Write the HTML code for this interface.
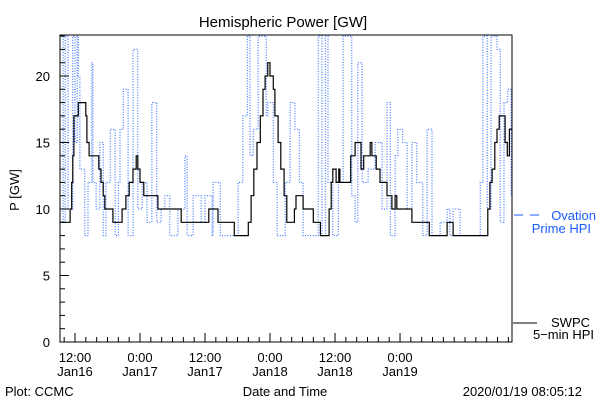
<!DOCTYPE html>
<html><head><meta charset="utf-8"><style>
html,body{margin:0;padding:0;background:#fff;}
svg{display:block;font-family:"Liberation Sans",sans-serif;}
</style></head><body>
<svg id="chart" width="600" height="400" viewBox="0 0 600 400">
<rect width="600" height="400" fill="#fff"/>
<text x="283" y="27" font-size="15" text-anchor="middle">Hemispheric Power [GW]</text>
<text transform="translate(19,190) rotate(-90)" font-size="13" text-anchor="middle">P [GW]</text>
<text x="285" y="396" font-size="13" text-anchor="middle">Date and Time</text>
<text x="5" y="396" font-size="13">Plot: CCMC</text>
<text x="582" y="396" font-size="13" text-anchor="end">2020/01/19 08:05:12</text>
<g>
<line x1="514" y1="215" x2="523" y2="215" stroke="#1a5cff"/>
<line x1="530" y1="215" x2="539" y2="215" stroke="#1a5cff"/>
<text x="596" y="220" font-size="13" fill="#1a5cff" text-anchor="end">Ovation</text>
<text x="591" y="233" font-size="13" fill="#1a5cff" text-anchor="end">Prime HPI</text>
</g>
<g>
<line x1="513" y1="323" x2="537" y2="323" stroke="#000"/>
<text x="590" y="327" font-size="13" text-anchor="end">SWPC</text>
<text x="594" y="339" font-size="13" text-anchor="end">5−min HPI</text>
</g>
<defs><clipPath id="pc"><rect x="60" y="35" width="452" height="307"/></clipPath></defs>
<g id="series" clip-path="url(#pc)"></g>
<g id="axes"></g>
<rect x="60" y="35" width="452" height="307" fill="none" stroke="#000"/>
</svg>
<script>
const blackHours=[9.2,10.7,11.1,11.4,11.6,11.8,12.4,12.6,13.8,14.0,14.2,14.6,16.1,16.4,16.8,17.2,17.5,18.8,19.0,20.3,20.7,21.4,22.0,22.7,23.3,23.6,24.0,24.7,27.0,27.3,31.4,31.6,36.6,36.7,38.2,38.4,41.2,41.4,43.6,44.0,44.5,45.0,45.6,46.2,46.7,47.1,47.6,48.0,48.6,48.9,49.5,50.0,50.6,51.1,51.3,52.1,52.5,52.8,53.9,54.1,55.8,56.0,57.1,57.3,58.5,58.9,59.3,59.6,60.2,60.7,60.9,62.6,62.9,63.7,64.2,64.8,65.3,66.5,66.8,67.6,68.3,69.2,69.6,70.5,71.1,71.4,74.0,74.2,77.2,77.4,80.3,80.7,81.6,81.8,87.9,88.2,88.6,89.0,89.5,89.9,90.3,91.0,91.4,91.8,92.2,92.7];
const blackValues=[9,9,10,12,14,17,17,18,18,17,15,14,14,13,12,11,10,10,9,9,10,11,12,13,14,13,12,11,11,10,10,9,9,10,10,9,9,8,8,9,11,13,15,17,19,20,21,20,19,17,15,13,11,9,9,9,10,11,11,10,10,9,9,8,8,10,12,13,12,13,12,12,14,15,15,13,14,15,14,13,12,12,11,10,11,10,10,9,9,8,8,9,9,8,8,10,12,13,15,16,17,17,15,14,16,15];
const blueHours=[9.4,9.8,10.2,10.7,11.6,12.0,12.4,12.6,12.9,13.8,14.4,15.1,15.3,15.9,16.6,17.2,17.7,18.5,19.4,20.0,20.3,20.9,21.8,22.7,23.6,24.4,25.3,26.2,27.1,27.9,28.6,29.5,31.0,32.3,32.7,33.8,34.7,35.3,36.0,37.3,37.5,38.8,41.2,42.1,43.0,43.8,44.3,44.9,45.8,46.7,47.3,47.6,48.6,49.3,50.8,51.7,52.6,53.4,54.1,55.9,56.9,57.6,58.2,58.7,59.6,60.6,61.5,62.4,63.1,63.7,64.2,65.0,66.1,67.4,68.7,69.6,70.2,71.1,71.6,72.5,73.3,74.2,75.1,76.2,77.0,77.9,79.4,80.7,81.2,81.8,83.1,85.8,86.8,87.3,88.1,88.8,89.3,89.9,90.5,91.2,91.9,92.5];
const blueValues=[23,9,23,10,23,15,23,20,13,8,12,21,12,10,15,8,12,16,8,12,16,19,8,22,10,12,9,18,9,10,11,8,10,14,8,11,11,9,11,8,12,8,8,12,17,23,14,16,23,23,17,18,12,8,12,18,16,12,8,8,23,8,23,12,8,12,23,23,11,9,21,12,13,15,10,18,8,14,16,15,10,15,12,8,16,8,9,10,8,10,8,8,12,23,10,23,23,22,9,18,19,11];
const yTickLabels=["0","5","10","15","20"];
const xTickHours=[12,24,36,48,60,72];
const xTickTimes=["12:00","0:00","12:00","0:00","12:00","0:00"];
const xTickDates=["Jan16","Jan17","Jan17","Jan18","Jan18","Jan19"];

const NS="http://www.w3.org/2000/svg";
const X=h=>75+(h-12)*5.417;
const Y=v=>342-v*13.3;
function mk(tag,attrs,parent){const e=document.createElementNS(NS,tag);for(const k in attrs)e.setAttribute(k,attrs[k]);parent.appendChild(e);return e;}
function stepPath(hs,vs){
  let d='M'+X(hs[0]).toFixed(1)+','+Y(vs[0]).toFixed(1);
  for(let i=1;i<hs.length;i++){
    d+=' H'+X(hs[i]).toFixed(1)+' V'+Y(vs[i]).toFixed(1);
  }
  return d;
}
const series=document.getElementById('series');
const axes=document.getElementById('axes');

const bl=mk('path',{d:stepPath(blueHours,blueValues),fill:'none',stroke:'#1a5cff','stroke-width':1,'stroke-dasharray':'1 1.6'},series);


const kl=mk('path',{d:stepPath(blackHours,blackValues),fill:'none',stroke:'#000','stroke-width':1.2},series);



for(let v=0;v<=23;v++){
  const major=v%5===0;
  const t=mk('line',{x1:60,x2:60+(major?9:5),y1:Y(v),y2:Y(v),stroke:'#000'},axes);
  
  
}
yTickLabels.forEach(s=>{
  const t=mk('text',{x:50,y:Y(+s)+5,'font-size':13,'text-anchor':'end'},axes);
  t.textContent=s;
  
  
});
for(let h=10;h<=92;h+=2){
  const major=xTickHours.includes(h);
  const t=mk('line',{x1:X(h),x2:X(h),y1:342,y2:342-(major?9:5),stroke:'#000'},axes);
  
  
}
xTickHours.forEach((h,i)=>{
  const a=mk('text',{x:X(h),y:362,'font-size':13,'text-anchor':'middle'},axes);
  a.textContent=xTickTimes[i];
  
  
  const b=mk('text',{x:X(h),y:376,'font-size':13,'text-anchor':'middle'},axes);
  b.textContent=xTickDates[i];
  
  
});
</script>
</body></html>
